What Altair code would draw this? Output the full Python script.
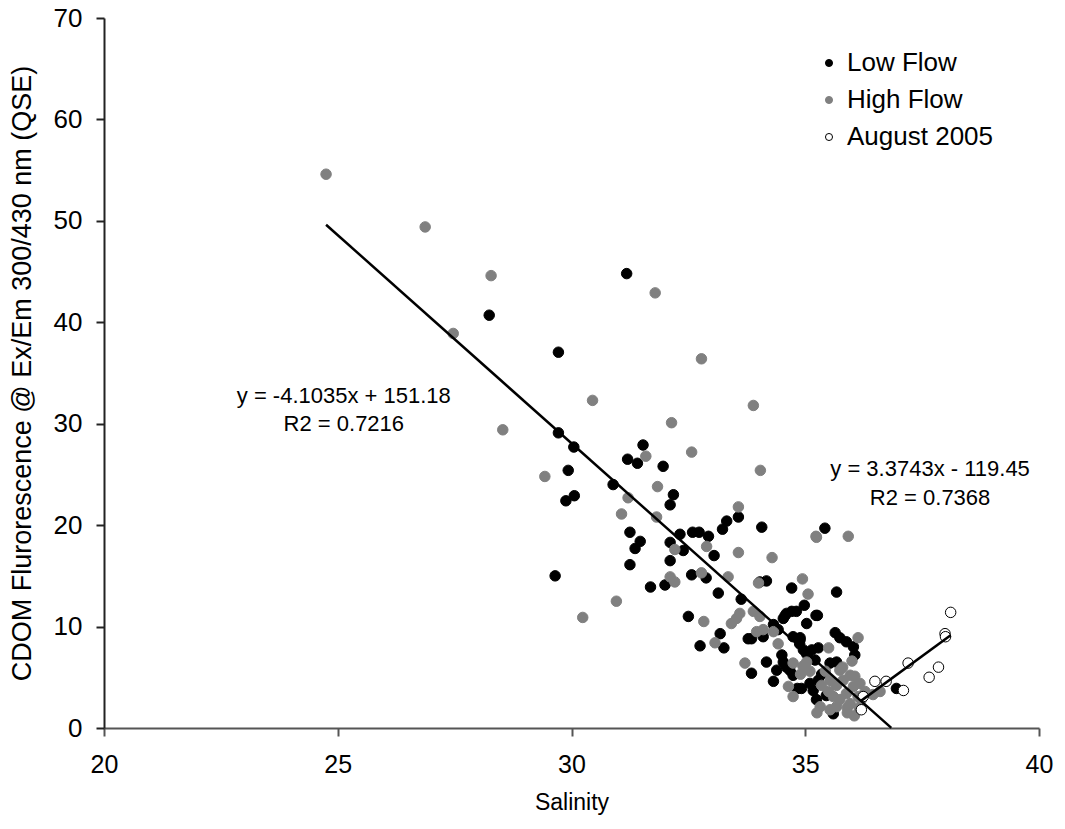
import altair as alt
import pandas as pd

# ---- data ----
low_x = [28.24, 29.72, 29.72, 29.65, 31.18, 30.05, 29.93, 31.53, 31.20, 31.41, 31.96, 30.89, 32.18, 30.06, 29.88,
         32.11, 33.57, 33.32, 33.23, 34.07, 31.25, 32.59, 32.73, 32.93, 32.32, 31.47, 31.36, 32.11, 32.39, 33.05,
         32.11, 31.25, 32.57, 32.88, 32.00, 31.69, 34.17, 34.03, 34.71, 33.14, 33.63, 34.98, 32.50, 34.60, 34.71,
         34.81, 34.53, 35.23, 35.03, 34.32, 34.42, 33.18, 33.78, 33.85, 34.10, 34.74, 32.75, 33.26, 34.88, 34.96,
         35.03, 34.50, 34.53, 34.60, 34.17, 33.85, 34.39, 34.32, 34.83, 35.42, 35.67, 35.64, 35.74, 35.88, 36.03,
         36.06, 34.89, 35.14, 35.28, 35.53, 35.67, 35.21, 35.60, 35.24, 35.17, 35.28, 34.92, 36.95, 34.57, 35.26,
         34.67, 34.74, 35.35, 35.10, 35.45, 34.89]
low_y = [40.7, 37.05, 29.1, 15.0, 44.8, 27.7, 25.4, 27.9, 26.5, 26.1, 25.8, 24.0, 23.0, 22.9, 22.4,
         22.0, 20.8, 20.4, 19.6, 19.8, 19.3, 19.3, 19.3, 18.9, 19.1, 18.4, 17.7, 18.3, 17.5, 17.0,
         16.5, 16.1, 15.1, 14.8, 14.1, 13.9, 14.5, 14.4, 13.8, 13.3, 12.7, 12.1, 11.0, 11.3, 11.5,
         11.5, 10.8, 11.1, 10.3, 10.2, 9.7, 9.3, 8.8, 8.8, 9.0, 9.0, 8.1, 7.9, 8.3, 7.7,
         7.3, 7.2, 6.5, 6.0, 6.5, 5.4, 5.7, 4.6, 3.9, 19.7, 13.4, 9.4, 8.9, 8.5, 8.0,
         7.2, 8.9, 7.7, 7.9, 6.4, 6.5, 6.7, 1.4, 2.8, 3.7, 4.7, 3.9, 3.9, 11.1, 11.1,
         5.7, 5.2, 5.3, 4.4, 3.2, 8.7]

high_x = [24.75, 26.87, 28.28, 27.47, 28.53, 29.43, 31.79, 32.78, 30.45, 33.89, 32.14, 32.57, 34.04, 31.59, 31.84,
          31.21, 31.07, 33.57, 31.82, 35.23, 32.89, 32.21, 33.57, 34.29, 32.78, 32.11, 32.21, 33.35, 34.00, 34.94,
          35.06, 30.96, 30.24, 32.83, 33.42, 33.53, 33.60, 33.89, 34.03, 33.96, 34.10, 34.32, 33.07, 34.42, 34.74,
          33.71, 35.03, 35.10, 34.64, 34.74, 35.24, 35.92, 36.13, 35.50, 35.74, 35.43, 35.53, 35.67, 35.81, 35.96,
          36.06, 36.03, 36.17, 36.28, 35.88, 35.74, 35.60, 35.50, 35.32, 35.53, 35.67, 35.96, 36.13, 36.45, 36.60,
          34.95, 34.90, 35.90, 36.15, 35.25, 36.05, 35.80, 36.00, 35.35, 35.90, 36.20]
high_y = [54.6, 49.4, 44.6, 38.9, 29.4, 24.8, 42.9, 36.4, 32.3, 31.8, 30.1, 27.2, 25.4, 26.8, 23.8,
          22.7, 21.1, 21.8, 20.8, 18.9, 17.9, 17.6, 17.3, 16.8, 15.3, 14.9, 14.4, 14.9, 14.3, 14.7,
          13.2, 12.5, 10.9, 10.5, 10.3, 10.8, 11.3, 11.5, 11.0, 9.5, 9.7, 9.5, 8.4, 8.3, 6.4,
          6.4, 6.5, 5.6, 4.1, 3.1, 18.8, 18.9, 8.9, 7.9, 5.7, 5.6, 4.7, 4.2, 4.7, 5.2,
          5.1, 4.1, 4.4, 3.6, 3.4, 2.8, 3.1, 3.6, 2.1, 1.8, 2.1, 2.4, 3.1, 3.3, 3.6,
          6.1, 5.3, 1.5, 2.0, 1.5, 1.2, 6.0, 6.6, 4.2, 2.0, 2.8]

aug_x = [38.11, 37.99, 38.00, 37.20, 37.85, 37.65, 36.49, 36.73, 37.10, 36.20, 36.24]
aug_y = [11.4, 9.3, 9.0, 6.4, 6.0, 5.0, 4.6, 4.6, 3.7, 1.8, 3.1]

series_names = ["Low Flow", "High Flow", "August 2005"]
series_fill = ["#000000", "#808080", "#ffffff"]
series_stroke = ["#000000", "#808080", "#000000"]

# fitted trend lines (slope, intercept, x range)
fit_slope = [-4.1035, 3.3743]
fit_intercept = [151.18, -119.45]
fit_xmin = [24.75, 36.20]
fit_xmax = [36.84, 38.11]

label_text = ["y = -4.1035x + 151.18", "R2 = 0.7216", "y = 3.3743x - 119.45", "R2 = 0.7368"]
label_x = [25.13, 25.13, 37.67, 37.67]
label_y = [32.77, 29.98, 25.54, 22.68]

x_ticks = [20, 25, 30, 35, 40]
y_ticks = [0, 10, 20, 30, 40, 50, 60, 70]

# ---- tables ----
rows = []
for name, xs, ys in zip(series_names, [low_x, high_x, aug_x], [low_y, high_y, aug_y]):
    for a, b in zip(xs, ys):
        rows.append({"Salinity": a, "CDOM": b, "Series": name, "order": series_names.index(name)})
pts = pd.DataFrame(rows)

line_rows = []
for k in range(2):
    for xv in (fit_xmin[k], fit_xmax[k]):
        line_rows.append({"Salinity": xv, "CDOM": fit_slope[k] * xv + fit_intercept[k], "fit": k})
lines = pd.DataFrame(line_rows)

labels = pd.DataFrame({"text": label_text, "Salinity": label_x, "CDOM": label_y})

FONT = "Liberation Sans"

xscale = alt.Scale(domain=[20, 40], nice=False, zero=False)
yscale = alt.Scale(domain=[0, 70], nice=False)

legend = alt.Legend(title=None, orient="none", legendX=712, legendY=32,
                    labelFont=FONT, labelFontSize=26, labelColor="#000",
                    symbolSize=50, rowPadding=11, labelOffset=5, padding=0,
                    symbolStrokeWidth=1, symbolType="circle")

points = alt.Chart(pts).mark_circle(size=110, opacity=1, strokeWidth=1).encode(
    x=alt.X("Salinity:Q", scale=xscale,
            axis=alt.Axis(values=x_ticks, title="Salinity", grid=False, tickSize=8,
                          labelFontSize=25, labelPadding=28, labelBaseline="middle",
                          labelFlush=False, labelOverlap=False,
                          labelFont=FONT, labelColor="#000", domainColor="#555", tickColor="#555",
                          domainWidth=2, tickWidth=2, titleFont=FONT, titleFontSize=23,
                          titleFontWeight="normal", titleColor="#000", titleY=74,
                          titleBaseline="middle")),
    y=alt.Y("CDOM:Q", scale=yscale,
            axis=alt.Axis(values=y_ticks, title="CDOM Flurorescence @ Ex/Em 300/430 nm (QSE)",
                          grid=False, tickSize=8, labelFontSize=26, labelPadding=14,
                          labelFlush=False, labelOverlap=False,
                          labelFont=FONT, labelColor="#000", domainColor="#222", tickColor="#222",
                          domainWidth=2, tickWidth=2, titleFont=FONT, titleFontSize=27,
                          titleFontWeight="normal", titleColor="#000", titleX=-82, titleY=355,
                          titleAngle=-90, titleBaseline="middle", titleAlign="center")),
    fill=alt.Fill("Series:N", scale=alt.Scale(domain=series_names, range=series_fill), legend=legend),
    stroke=alt.Stroke("Series:N", scale=alt.Scale(domain=series_names, range=series_stroke), legend=legend),
    order=alt.Order("order:Q"),
)

trend = alt.Chart(lines).mark_line(color="#000", strokeWidth=2.5).encode(
    x=alt.X("Salinity:Q", scale=xscale),
    y=alt.Y("CDOM:Q", scale=yscale),
    detail="fit:N",
)

text = alt.Chart(labels).mark_text(font=FONT, fontSize=22, color="#000", align="center",
                                   baseline="middle").encode(
    x=alt.X("Salinity:Q", scale=xscale),
    y=alt.Y("CDOM:Q", scale=yscale),
    text="text:N",
)

chart = alt.layer(points, trend, text).properties(
    width=935, height=710,
    autosize=alt.AutoSizeParams(type="none"),
    padding={"left": 104, "top": 18, "right": 26, "bottom": 101},
    background="white",
).configure_view(stroke=None)

chart.save("out.html", embed_options={"renderer": "svg", "actions": False})
